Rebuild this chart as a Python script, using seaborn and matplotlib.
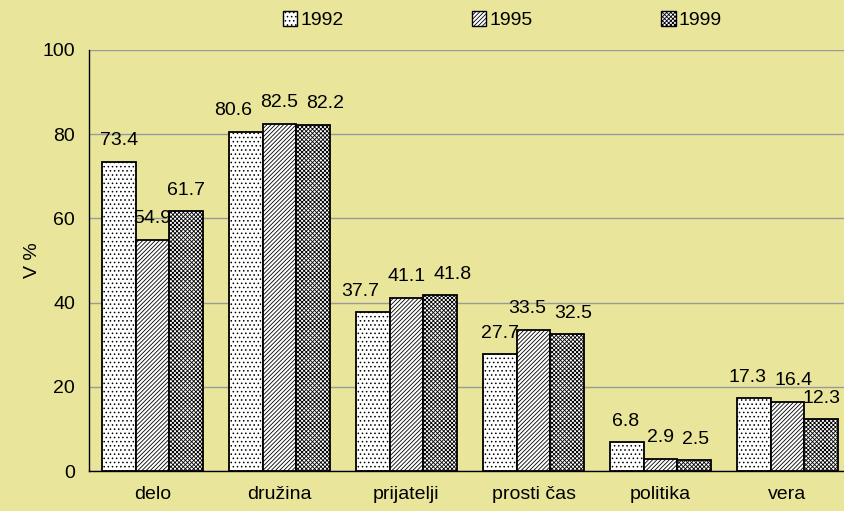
import numpy as np
import pandas as pd
import seaborn as sns
import matplotlib.pyplot as plt
from matplotlib.patches import Patch

# values
categories = ['delo', 'družina', 'prijatelji', 'prosti čas', 'politika', 'vera']
years = ['1992', '1995', '1999']
v1992 = [73.4, 80.6, 37.7, 27.7, 6.8, 17.3]
v1995 = [54.9, 82.5, 41.1, 33.5, 2.9, 16.4]
v1999 = [61.7, 82.2, 41.8, 32.5, 2.5, 12.3]

df = pd.DataFrame({
    'kategorija': categories * 3,
    'leto': [y for y in years for _ in categories],
    'odstotek': v1992 + v1995 + v1999,
})

bg = '#E9E59A'
hatches = ['....', '////////', 'xxxxxxxx']
fs = 14

sns.set_style('white')
plt.rcParams['font.family'] = ['Liberation Sans', 'DejaVu Sans']
plt.rcParams['hatch.linewidth'] = 0.6
plt.rcParams['text.color'] = 'black'
plt.rcParams['axes.labelcolor'] = 'black'
plt.rcParams['xtick.color'] = 'black'
plt.rcParams['ytick.color'] = 'black'

fig = plt.figure(figsize=(8.44, 5.11), dpi=100, facecolor=bg)
ax = fig.add_axes([89 / 844, 40 / 511, 762 / 844, 421 / 511])
ax.set_facecolor(bg)

sns.barplot(data=df, x='kategorija', y='odstotek', hue='leto', hue_order=years,
            order=categories, palette=['white'] * 3, edgecolor='black',
            linewidth=1.3, width=0.8, ax=ax, legend=False, zorder=3)

labels = []
for cont, h in zip(ax.containers, hatches):
    for bar in cont:
        bar.set_hatch(h)
    labels.append(ax.bar_label(cont, fmt='%.1f', padding=9, fontsize=fs, color='black'))

ax.set_ylim(0, 100)
ax.set_xlim(-0.5, 5.5)
ax.set_yticks(np.arange(0, 101, 20))
ax.yaxis.grid(True, color='#9A9A9A', linewidth=1.0, zorder=0)
ax.set_axisbelow(True)
ax.set_xticks(np.arange(-0.5, 6, 1), minor=True)
ax.tick_params(axis='x', which='major', length=0, pad=11, labelsize=fs, labelcolor='black')
ax.tick_params(axis='x', which='minor', length=7, width=1, color='black', direction='out')
ax.tick_params(axis='y', length=6, width=1, color='black', direction='out', labelsize=fs,
               pad=4, labelcolor='black')

for s in ['top', 'right']:
    ax.spines[s].set_visible(False)
for s in ['left', 'bottom']:
    ax.spines[s].set_color('black')
    ax.spines[s].set_linewidth(1.0)

ax.set_xlabel('')
ax.set_ylabel('V %', fontsize=fs, labelpad=1, color='black')

# push apart value labels that collide inside a group (like Excel does)
fig.canvas.draw()
renderer = fig.canvas.get_renderer()
px2pt = 72 / fig.dpi
for g in range(len(categories)):
    grp = [labels[k][g] for k in range(len(years))]
    for _ in range(4):
        for i in range(len(grp) - 1):
            a, b = grp[i], grp[i + 1]
            ba = a.get_window_extent(renderer)
            bb = b.get_window_extent(renderer)
            ov = ba.x1 - bb.x0 + 8
            if ov > 0 and ba.y0 < bb.y1 and bb.y0 < ba.y1:
                ax_, ay_ = a.xyann
                bx_, by_ = b.xyann
                a.xyann = (ax_ - ov / 2 * px2pt, ay_)
                b.xyann = (bx_ + ov / 2 * px2pt, by_)

# legend across the top
handles = [Patch(facecolor='white', edgecolor='black', hatch=h, linewidth=1.0) for h in hatches]
fig.legend(handles, years, loc='center', bbox_to_anchor=(0.595, 0.96), ncol=3,
           frameon=False, fontsize=fs, handlelength=0.75, handleheight=0.75,
           handletextpad=0.15, columnspacing=6.6, labelcolor='black')

fig.savefig('out.png', dpi=100, facecolor=bg)
